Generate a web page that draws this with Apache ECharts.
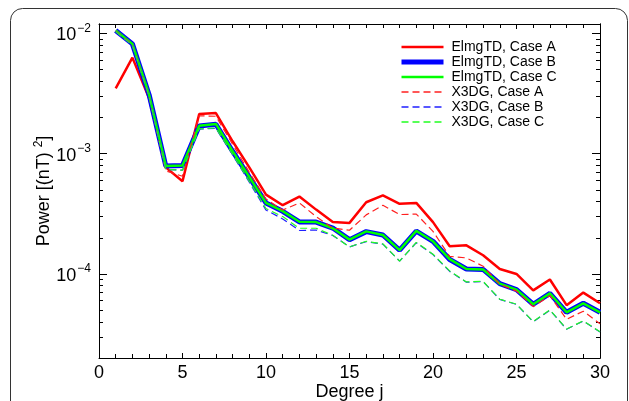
<!DOCTYPE html>
<html>
<head>
<meta charset="utf-8">
<script src="https://cdn.jsdelivr.net/npm/echarts@6/dist/echarts.min.js"></script>
<style>html,body{margin:0;padding:0;background:#fff}#c{width:629px;height:401px}</style>
</head>
<body>
<div id="c"></div>
<script>
const degrees = [1,2,3,4,5,6,7,8,9,10,11,12,13,14,15,16,17,18,19,20,21,22,23,24,25,26,27,28,29,30];
const elmgA = [0.0035,0.0063,0.0029,0.00077,0.00059,0.00214,0.00218,0.00127,0.00077,0.000457,0.000373,0.00044,0.000343,0.00027,0.000266,0.000395,0.00045,0.000383,0.00039,0.00027,0.00017,0.000173,0.000143,0.00011,0.0001,0.000073,0.00009,0.000055,0.00007,0.000057];
const elmgB = [0.0106,0.0082,0.0031,0.00079,0.0008,0.0017,0.00176,0.00105,0.00064,0.00039,0.000332,0.000271,0.00027,0.000241,0.000193,0.000225,0.000211,0.000158,0.000227,0.000187,0.000132,0.00011,0.000109,0.000083,0.000074,0.000056,0.000069,0.000048,0.000057,0.000048];
const elmgC = [0.0106,0.0082,0.0031,0.00079,0.0008,0.00171,0.00177,0.00105,0.00064,0.00039,0.000333,0.000272,0.00027,0.00024,0.000193,0.000226,0.000211,0.000158,0.000228,0.000187,0.000133,0.00011,0.000109,0.000083,0.000074,0.000056,0.000069,0.000048,0.000057,0.000048];
const x3dgA = [0.0105,0.0081,0.003,0.00072,0.00065,0.00207,0.00205,0.0012,0.0007,0.00042,0.00034,0.00039,0.0003,0.000241,0.000231,0.00031,0.000373,0.000312,0.000315,0.000226,0.00014,0.000136,0.000116,0.000082,0.000072,0.0000535,0.000066,0.000042,0.000049,0.0000385];
const x3dgB = [0.0104,0.008,0.003,0.00074,0.00073,0.0016,0.00163,0.00098,0.00058,0.00034,0.000287,0.00023,0.000232,0.000209,0.000168,0.000186,0.000177,0.000128,0.000182,0.000145,0.000105,0.0000855,0.0000865,0.0000614,0.0000558,0.00004,0.00005,0.0000347,0.0000406,0.0000329];
const x3dgC = [0.0104,0.008,0.003,0.00074,0.00073,0.00161,0.00164,0.00099,0.00059,0.00035,0.0003,0.00024,0.00024,0.00021,0.000168,0.000187,0.000178,0.000128,0.000183,0.000146,0.000106,0.0000858,0.0000868,0.0000616,0.000056,0.0000402,0.0000502,0.0000348,0.0000408,0.000033];
const seriesNames = ['ElmgTD, Case A','ElmgTD, Case B','ElmgTD, Case C','X3DG, Case A','X3DG, Case B','X3DG, Case C'];
const yMajorTicks = [1e-4, 1e-3, 1e-2];
const yMinorTicks = [2e-5,3e-5,4e-5,5e-5,6e-5,7e-5,8e-5,9e-5,2e-4,3e-4,4e-4,5e-4,6e-4,7e-4,8e-4,9e-4,2e-3,3e-3,4e-3,5e-3,6e-3,7e-3,8e-3,9e-3];
const yMin = 2.0e-5, yMax = 0.012;

const FONT = "'Liberation Sans', Arial, sans-serif";
const pair = a => degrees.map((d, i) => [d, a[i]]);

function yAxisDef(pos, major, labels) {
  return {
    type: 'log', logBase: 10, min: yMin, max: yMax, position: pos,
    axisLine: { show: true, lineStyle: { color: '#000', width: 1 } },
    axisTick: { show: true, inside: true, length: major ? 8 : 4, customValues: major ? yMajorTicks : yMinorTicks, lineStyle: { color: '#000', width: 1 } },
    axisLabel: labels ? {
      show: true, margin: 8, customValues: yMajorTicks, fontFamily: FONT, color: '#000',
      formatter: v => '{b|10}{s|\u2212' + Math.round(-Math.log10(v)) + '}',
      rich: { b: { fontSize: 18, fontFamily: FONT, color: '#000', lineHeight: 22, verticalAlign: 'bottom' }, s: { fontSize: 12, fontFamily: FONT, color: '#000', lineHeight: 22, verticalAlign: 'top', padding: [0,0,0,1] } }
    } : { show: false },
    splitLine: { show: false }, minorTick: { show: false }, minorSplitLine: { show: false },
    name: labels ? 'Power [(nT) {s|2}]' : '',
    nameLocation: 'middle', nameGap: 44, nameRotate: 90, nameMoveOverlap: false,
    nameTextStyle: { fontSize: 18, fontFamily: FONT, color: '#000', rich: { s: { fontSize: 12, fontFamily: FONT, color: '#000', verticalAlign: 'top', lineHeight: 22 } } }
  };
}
function xAxisDef(pos, labels) {
  return {
    type: 'value', min: 0, max: 30, interval: 5, position: pos,
    axisLine: { show: true, lineStyle: { color: '#000', width: 1 } },
    axisTick: { show: true, inside: true, length: 5, lineStyle: { color: '#000', width: 1 } },
    minorTick: { show: true, splitNumber: 5, length: 4, lineStyle: { color: '#000', width: 1 } },
    axisLabel: labels ? { show: true, margin: 6, fontSize: 18, fontFamily: FONT, color: '#000' } : { show: false },
    splitLine: { show: false },
    name: labels ? 'Degree j' : '', nameLocation: 'middle', nameGap: 25, nameMoveOverlap: false,
    nameTextStyle: { fontSize: 18, fontFamily: FONT, color: '#000' }
  };
}

const styles = [
  { color: '#ff0000', width: 2.5, type: 'solid' },
  { color: '#0000ff', width: 5, type: 'solid' },
  { color: '#00ff00', width: 2.5, type: 'solid' },
  { color: '#ff2020', width: 1.2, type: [7,4] },
  { color: '#2020ff', width: 1.2, type: [7,4] },
  { color: '#20ff20', width: 1.2, type: [7,4] }
];
const datasets = [elmgA, elmgB, elmgC, x3dgA, x3dgB, x3dgC];

const chart = echarts.init(document.getElementById('c'), null, { renderer: 'canvas' });
chart.setOption({
  animation: false,
  backgroundColor: '#fff',
  textStyle: { fontFamily: FONT },
  grid: { left: 99, right: 29, top: 24, bottom: 43, show: false, containLabel: false, outerBoundsMode: 'none' },
  xAxis: [xAxisDef('bottom', true), xAxisDef('top', false)],
  yAxis: [yAxisDef('left', true, true), yAxisDef('left', false, false), yAxisDef('right', true, false), yAxisDef('right', false, false)],
  legend: {
    show: true, orient: 'vertical', left: 399, top: 40, padding: 0, itemWidth: 42, itemHeight: 14, itemGap: 1,
    itemStyle: { opacity: 0 },
    textStyle: { fontSize: 14, fontFamily: FONT, color: '#000', padding: [0,0,0,3] },
    data: seriesNames.map((n, i) => ({ name: n, lineStyle: { width: i === 1 ? 5 : (i < 3 ? 2.5 : 1.3), opacity: 1 } }))
  },
  graphic: [{
    type: 'rect', silent: true, z: -10,
    shape: { x: 10.5, y: 8.5, width: 617, height: 430, r: 12 },
    style: { fill: 'none', stroke: '#333', lineWidth: 1 }
  }],
  series: datasets.map((d, i) => ({
    name: seriesNames[i], type: 'line', xAxisIndex: 0, yAxisIndex: 0,
    data: pair(d), symbol: 'none', showSymbol: false,
    lineStyle: { color: styles[i].color, width: styles[i].width, type: styles[i].type },
    itemStyle: { color: styles[i].color },
    emphasis: { disabled: true }, z: 2
  }))
});
</script>
</body>
</html>
